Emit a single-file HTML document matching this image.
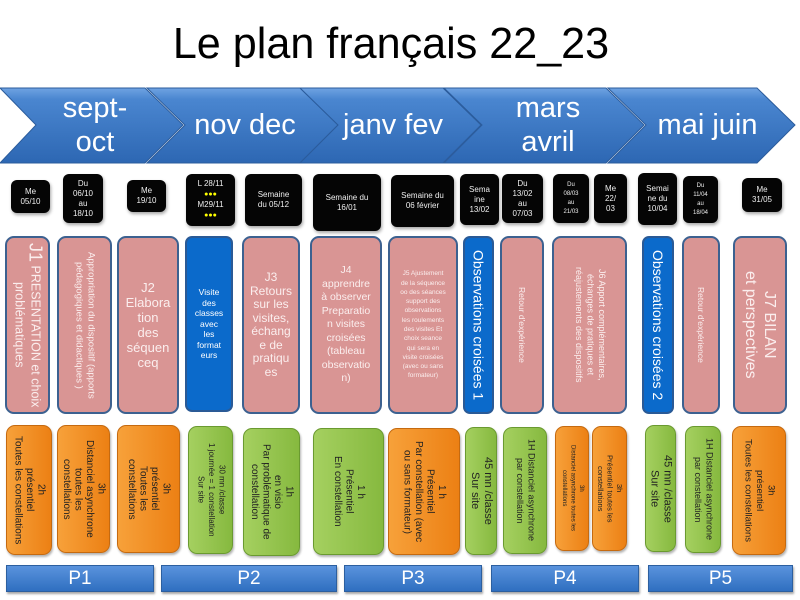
<!DOCTYPE html>
<html><head><meta charset="utf-8">
<style>
*{margin:0;padding:0;box-sizing:border-box}
body{width:800px;height:600px;background:#fff;position:relative;overflow:hidden;font-family:"Liberation Sans",sans-serif}
.a{position:absolute}
.t{position:absolute;left:-9px;top:19px;width:800px;text-align:center;font-size:44px;color:#000;transform:scaleX(0.98)}
.m{position:absolute;color:#fff;font-size:29px;text-align:center;line-height:34px}
.d{position:absolute;background:#050505;border-radius:6px;color:#eee;font-size:8px;line-height:10px;display:flex;align-items:center;justify-content:center;text-align:center;box-shadow:1px 2px 3px rgba(0,0,0,.35)}
.p{position:absolute;background:#d99594;border:2px solid #3c6190;border-radius:9px;color:#fbeeee;display:flex;align-items:center;justify-content:center;text-align:center}
.b{position:absolute;background:#0b6acb;border:2px solid #2a5a96;border-radius:7px;color:#fff;display:flex;align-items:center;justify-content:center;text-align:center}
.o{position:absolute;background:linear-gradient(90deg,#f7a13a,#ec8014);border:1px solid #c56a10;border-radius:9px;color:#222;display:flex;align-items:center;justify-content:center;text-align:center;font-size:10px;line-height:11.5px;box-shadow:1px 2px 2px rgba(0,0,0,.3)}
.g{position:absolute;background:linear-gradient(90deg,#a5d060,#86b93f);border:1px solid #6a9a30;border-radius:9px;color:#222;display:flex;align-items:center;justify-content:center;text-align:center;font-size:10px;line-height:11.5px;box-shadow:1px 2px 2px rgba(0,0,0,.3)}
.v{writing-mode:vertical-rl;text-align:center}
.P{position:absolute;top:565px;height:27px;background:linear-gradient(#5a93dd,#2f6fc0);border:1px solid #2c5f9f;color:#fff;font-size:19px;display:flex;align-items:center;justify-content:center;box-shadow:1px 2px 2px rgba(0,0,0,.35)}
.y{color:#ff0;font-size:7px}
</style></head><body>
<div class="t">Le plan français 22_23</div>

<svg class="a" style="left:0;top:0" width="800" height="200">
<defs><linearGradient id="cg" x1="0" y1="0" x2="0" y2="1"><stop offset="0" stop-color="#6fa3e2"/><stop offset=".15" stop-color="#4a86d0"/><stop offset="1" stop-color="#2d67b3"/></linearGradient></defs>
<g fill="url(#cg)" stroke="#2b5c9c" stroke-width="1">
<polygon points="0,88 145,88 183,125 145,163 0,163 36,125"/>
<polygon points="147,88 300,88 338,125 300,163 147,163 185,125"/>
<polygon points="300,88 443,88 481,125 443,163 300,163 338,125"/>
<polygon points="444,88 606,88 644,125 606,163 444,163 482,125"/>
<polygon points="608,88 757,88 795,125 757,163 608,163 646,125"/>
</g>
</svg>
<div class="m" style="left:45px;top:91px;width:100px">sept-<br>oct</div>
<div class="m" style="left:185px;top:108px;width:120px">nov dec</div>
<div class="m" style="left:333px;top:108px;width:120px">janv fev</div>
<div class="m" style="left:488px;top:91px;width:120px">mars<br>avril</div>
<div class="m" style="left:645px;top:108px;width:125px">mai juin</div>

<div class="d" style="left:11px;top:180px;width:39px;height:33px"><div>Me<br>05/10</div></div>
<div class="d" style="left:63px;top:174px;width:40px;height:49px"><div>Du<br>06/10<br>au<br>18/10</div></div>
<div class="d" style="left:127px;top:180px;width:39px;height:32px"><div>Me<br>19/10</div></div>
<div class="d" style="left:186px;top:174px;width:49px;height:52px"><div>L 28/11<br><span class="y">●●●</span><br>M29/11<br><span class="y">●●●</span></div></div>
<div class="d" style="left:245px;top:174px;width:57px;height:52px"><div>Semaine<br>du 05/12</div></div>
<div class="d" style="left:313px;top:174px;width:68px;height:57px"><div>Semaine du<br>16/01</div></div>
<div class="d" style="left:391px;top:175px;width:63px;height:52px"><div>Semaine du<br>06 février</div></div>
<div class="d" style="left:460px;top:174px;width:39px;height:51px"><div>Sema<br>ine<br>13/02</div></div>
<div class="d" style="left:502px;top:174px;width:41px;height:49px"><div>Du<br>13/02<br>au<br>07/03</div></div>
<div class="d" style="left:553px;top:174px;width:36px;height:49px;font-size:6px;line-height:9px"><div>Du<br>08/03<br>au<br>21/03</div></div>
<div class="d" style="left:594px;top:174px;width:33px;height:49px"><div>Me<br>22/<br>03</div></div>
<div class="d" style="left:638px;top:173px;width:39px;height:52px"><div>Semai<br>ne du<br>10/04</div></div>
<div class="d" style="left:683px;top:176px;width:35px;height:47px;font-size:6px;line-height:9px"><div>Du<br>11/04<br>au<br>18/04</div></div>
<div class="d" style="left:742px;top:178px;width:40px;height:34px"><div>Me<br>31/05</div></div>

<div class="p" style="left:5px;top:236px;width:45px;height:178px"><div class="v" style="font-size:12.5px;line-height:16px"><span style="font-size:18px">J1</span> PRESENTATION et choix problématiques</div></div>
<div class="p" style="left:57px;top:236px;width:55px;height:178px"><div class="v" style="font-size:9.5px;line-height:12px">Appropriation du dispositif (apports pédagogiques et didactiques )</div></div>
<div class="p" style="left:117px;top:236px;width:62px;height:178px;font-size:13px;line-height:15px"><div>J2<br>Elabora<br>tion<br>des<br>séquen<br>ceq</div></div>
<div class="b" style="left:185px;top:236px;width:48px;height:176px;font-size:8.5px;line-height:10.5px"><div>Visite<br>des<br>classes<br>avec<br>les<br>format<br>eurs</div></div>
<div class="p" style="left:242px;top:236px;width:58px;height:178px;font-size:12px;line-height:13.5px"><div>J3<br>Retours<br>sur les<br>visites,<br>échang<br>e de<br>pratiqu<br>es</div></div>
<div class="p" style="left:310px;top:236px;width:72px;height:178px;font-size:10.5px;line-height:13.5px"><div>J4<br>apprendre<br>à observer<br>Preparatio<br>n visites<br>croisées<br>(tableau<br>observatio<br>n)</div></div>
<div class="p" style="left:388px;top:236px;width:70px;height:178px;font-size:6.5px;line-height:9.3px"><div>J5 Ajustement<br>de la séquence<br>oo des séances<br>support des<br>observations<br>les roulements<br>des visites Et<br>choix seance<br>qui sera en<br>visite croisées<br>(avec ou sans<br>formateur)</div></div>
<div class="b" style="left:463px;top:236px;width:31px;height:178px"><div class="v" style="font-size:14px">Observations croisées 1</div></div>
<div class="p" style="left:500px;top:236px;width:44px;height:178px"><div class="v" style="font-size:8.5px">Retour d'expérience</div></div>
<div class="p" style="left:552px;top:236px;width:75px;height:178px"><div class="v" style="font-size:9px;line-height:11.5px">J6 Apport complémentaires,<br>échanges de pratiques et<br>réajustements des dispositifs</div></div>
<div class="b" style="left:642px;top:236px;width:32px;height:178px"><div class="v" style="font-size:14px">Observations croisées 2</div></div>
<div class="p" style="left:682px;top:236px;width:38px;height:178px"><div class="v" style="font-size:8.5px">Retour d'expérience</div></div>
<div class="p" style="left:733px;top:236px;width:54px;height:178px"><div class="v" style="font-size:16px;line-height:19px">J7 BILAN<br>et perspectives</div></div>

<div class="o" style="left:6px;top:425px;width:46px;height:130px"><div class="v">2h<br>présentiel<br>Toutes les constellations</div></div>
<div class="o" style="left:57px;top:425px;width:53px;height:128px"><div class="v">3h<br>Distanciel asynchrone<br>toutes les<br>constellations</div></div>
<div class="o" style="left:117px;top:425px;width:63px;height:128px"><div class="v">3h<br>présentiel<br>Toutes les<br>constellations</div></div>
<div class="g" style="left:188px;top:426px;width:45px;height:128px"><div class="v" style="font-size:8px;line-height:10.5px">30 mn /classe<br>1 journée = 1 constellation<br>Sur site</div></div>
<div class="g" style="left:243px;top:428px;width:57px;height:128px"><div class="v">1h<br>en visio<br>Par problématique de<br>constellation</div></div>
<div class="g" style="left:313px;top:428px;width:71px;height:127px"><div class="v">1 h<br>Présentiel<br>En constellation</div></div>
<div class="o" style="left:388px;top:428px;width:72px;height:127px"><div class="v">1 h<br>Présentiel<br>Par constellation (avec<br>ou sans formateur)</div></div>
<div class="g" style="left:465px;top:427px;width:32px;height:128px"><div class="v" style="font-size:11px;line-height:13px">45 mn /classe<br>Sur site</div></div>
<div class="g" style="left:503px;top:427px;width:44px;height:127px"><div class="v" style="font-size:9px">1H Distanciel asynchrone<br>par constellation</div></div>
<div class="o" style="left:555px;top:426px;width:34px;height:125px"><div class="v" style="font-size:6px;line-height:8.5px">3h<br>Distanciel asynchrone toutes les<br>constellations</div></div>
<div class="o" style="left:592px;top:426px;width:35px;height:125px"><div class="v" style="font-size:7.5px;line-height:9.5px">3h<br>Présentiel toutes les<br>constellations</div></div>
<div class="g" style="left:645px;top:425px;width:31px;height:127px"><div class="v" style="font-size:11px;line-height:13px">45 mn /classe<br>Sur site</div></div>
<div class="g" style="left:685px;top:426px;width:36px;height:127px"><div class="v" style="font-size:9px">1H Distanciel asynchrone<br>par constellation</div></div>
<div class="o" style="left:732px;top:426px;width:54px;height:129px"><div class="v" style="font-size:9.5px">3h<br>présentiel<br>Toutes les constellations</div></div>

<div class="P" style="left:6px;width:148px">P1</div>
<div class="P" style="left:161px;width:176px">P2</div>
<div class="P" style="left:344px;width:138px">P3</div>
<div class="P" style="left:491px;width:148px">P4</div>
<div class="P" style="left:648px;width:145px">P5</div>
</body></html>
